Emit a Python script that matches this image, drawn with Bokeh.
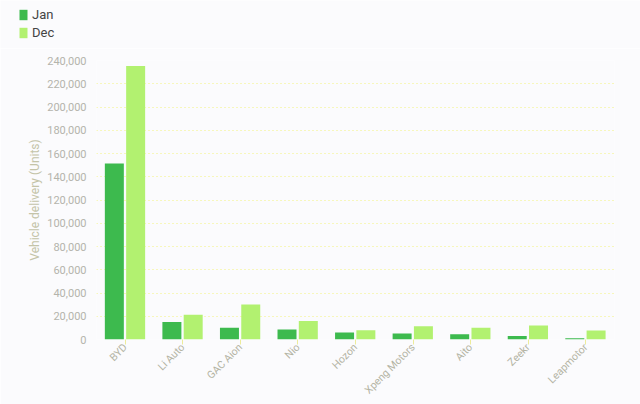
import math
from bokeh.plotting import figure
from bokeh.layouts import column
from bokeh.models import (ColumnDataSource, FactorRange, Range1d, NumeralTickFormatter, Legend,
                          LegendItem, FixedTicker)
from bokeh.transform import dodge
from bokeh.embed import file_html
from bokeh.resources import INLINE

brands = ["BYD", "Li Auto", "GAC Aion", "Nio", "Hozon", "Xpeng Motors", "Aito", "Zeekr", "Leapmotor"]
jan = [151341, 15141, 10206, 8506, 6016, 5218, 4475, 3116, 1139]
dec = [235197, 21233, 30007, 15815, 7933, 11292, 10142, 12044, 7807]
series = ["Jan", "Dec"]
y_ticks = list(range(0, 240001, 20000))

src = ColumnDataSource(dict(brand=brands, jan=jan, dec=dec))

BG = "#fbfbfd"
FONT = "Roboto"
C_JAN = "#3dba4e"
C_DEC = "#b2f170"

# ---- legend strip (top) ----
lg = figure(width=640, height=48, x_range=Range1d(0, 1), y_range=Range1d(0, 1),
            x_axis_type=None, y_axis_type=None, output_backend="svg", toolbar_location=None,
            min_border=0)
lg.frame_align = False
lg.background_fill_color = BG
lg.border_fill_color = BG
lg.outline_line_color = None
lg.grid.visible = False
# zero-height proxies, used only for the legend swatches
proxy = ColumnDataSource(dict(x=[0.5], top=[0]))
l1 = lg.vbar(x="x", top="top", width=0.01, source=proxy, fill_color=C_JAN, line_color=None)
l2 = lg.vbar(x="x", top="top", width=0.01, source=proxy, fill_color=C_DEC, line_color=None)
legend = Legend(items=[LegendItem(label=series[0], renderers=[l1]),
                       LegendItem(label=series[1], renderers=[l2])],
                location=(18, 8), orientation="vertical",
                background_fill_alpha=0, border_line_color=None,
                label_text_font=FONT, label_text_font_size="13px", label_text_color="#444444",
                glyph_width=10, glyph_height=13, spacing=3, padding=0, margin=0, label_standoff=4,
                label_height=13)
lg.add_layout(legend, "center")

# ---- main chart ----
p = figure(width=640, height=356, x_range=FactorRange(*brands), y_range=Range1d(0, 240000),
           output_backend="svg", toolbar_location=None,
           min_border_left=96, min_border_right=26, min_border_top=12, min_border_bottom=65)
p.frame_align = False
p.background_fill_color = BG
p.border_fill_color = BG
p.outline_line_color = None

p.vbar(x=dodge("brand", -0.19, range=p.x_range), top="jan", width=0.33, source=src,
       fill_color=C_JAN, line_color=None)
p.vbar(x=dodge("brand", 0.18, range=p.x_range), top="dec", width=0.33, source=src,
       fill_color=C_DEC, line_color=None)

p.yaxis.ticker = FixedTicker(ticks=y_ticks)
p.yaxis.formatter = NumeralTickFormatter(format="0,0")
p.yaxis.axis_label = "Vehicle delivery (Units)"
p.yaxis.axis_label_text_font_style = "normal"
p.yaxis.axis_label_text_font = FONT
p.yaxis.axis_label_text_font_size = "12px"
p.yaxis.axis_label_text_color = "#c4c4a8"
p.yaxis.axis_label_standoff = 2
p.yaxis.axis_line_color = None
p.yaxis.major_tick_line_color = None
p.yaxis.minor_tick_line_color = None
p.yaxis.major_tick_in = 0
p.yaxis.major_tick_out = 0
p.yaxis.major_label_standoff = 10
p.yaxis.major_label_text_font = FONT
p.yaxis.major_label_text_font_size = "11px"
p.yaxis.major_label_text_color = "#b4b4ac"

p.xaxis.axis_line_color = None
p.xaxis.minor_tick_line_color = None
p.xaxis.major_tick_line_color = "#ecec9a"
p.xaxis.major_tick_in = 0
p.xaxis.major_tick_out = 5
p.xaxis.major_label_orientation = math.pi / 4
p.xaxis.major_label_standoff = 1
p.xaxis.major_label_text_font = FONT
p.xaxis.major_label_text_font_size = "10.5px"
p.xaxis.major_label_text_color = "#b4b4a4"

p.xgrid.grid_line_color = None
p.ygrid.grid_line_color = "#f2f27a"
p.ygrid.grid_line_dash = "1 3"
p.ygrid.grid_line_width = 1

open("out.html", "w").write(file_html(column(lg, p), INLINE))
